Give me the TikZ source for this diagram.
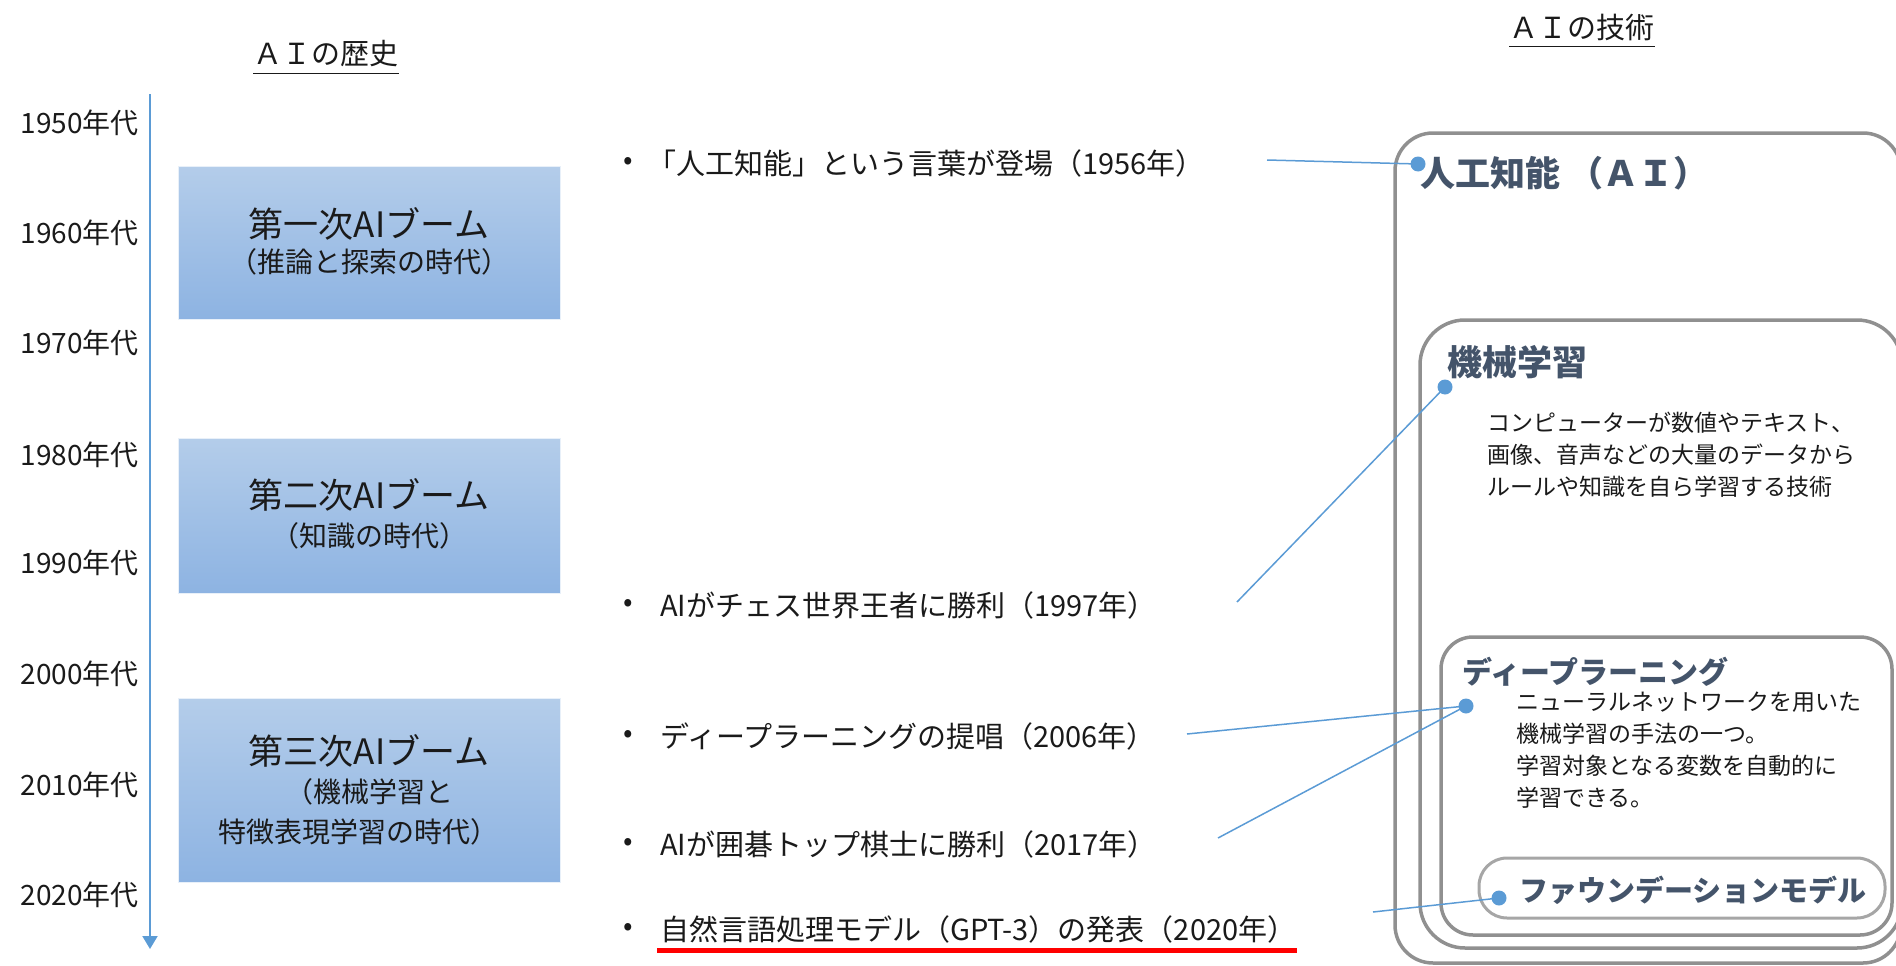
\documentclass[tikz,border=0pt]{standalone}
\usepackage{fontspec}
\setmainfont{Noto Sans CJK JP}
\usetikzlibrary{arrows.meta}
\definecolor{tlblue}{HTML}{5B9BD5}
\definecolor{boxtop}{HTML}{B4CDEA}
\definecolor{boxbot}{HTML}{8DB3E2}
\definecolor{slate}{HTML}{44546A}
\definecolor{frame}{HTML}{909090}
\definecolor{framelt}{HTML}{A6A6A6}
\definecolor{txt}{HTML}{1A1A1A}
\newcommand{\fs}[1]{\fontsize{#1}{#1}\selectfont}
\tikzset{
  decade/.style={anchor=east, inner sep=0, text=txt, font=\fs{28}},
  boombox/.style={draw=white!70!boxtop, line width=1, top color=boxtop, bottom color=boxbot, minimum width=382, minimum height=#1, inner sep=0},
  boomtitle/.style={inner sep=0, text=txt, font=\fs{35}},
  boomsub/.style={inner sep=0, text=txt, font=\fs{28}},
  bul/.style={inner sep=0, text=txt, font=\fs{28}},
  event/.style={anchor=west, inner sep=0, text=txt, font=\fs{29}},
  head/.style={inner sep=0, text=txt, font=\fs{29}},
  tech/.style={anchor=west, inner sep=0, text=slate, font=\bfseries\fs{#1}},
  desc/.style={anchor=north west, inner sep=0, text=txt, align=left, font=\fontsize{23}{32}\selectfont},
  dotnode/.style={circle, fill=tlblue, inner sep=0, minimum size=15},
  link/.style={draw=tlblue, line width=1.5},
  frm/.style={draw=frame, line width=3.5},
  frmlt/.style={draw=framelt, line width=3}
}
\begin{document}
\begin{tikzpicture}[x=1pt,y=-1pt]
\useasboundingbox (0,0) rectangle (1896,966);
\clip (0,0) rectangle (1896,966);

% titles
\node[head] (t1) at (326,54) {ＡＩの歴史};
\draw[line width=1.8, txt] ([yshift=-6]t1.south west) -- ([yshift=-6]t1.south east);
\node[head] (t2) at (1582,27) {ＡＩの技術};
\draw[line width=1.8, txt] ([yshift=-6]t2.south west) -- ([yshift=-6]t2.south east);

% timeline
\coordinate (tl0) at (150,94);
\coordinate (tl1) at (150,949);
\draw[tlblue, line width=2, -{Triangle[length=13pt,width=15pt]}] (tl0) -- (tl1);

\node[decade] (y1950) at (139,123) {1950年代};
\node[decade] (y1960) at (139,233) {1960年代};
\node[decade] (y1970) at (139,343) {1970年代};
\node[decade] (y1980) at (139,455) {1980年代};
\node[decade] (y1990) at (139,563) {1990年代};
\node[decade] (y2000) at (139,674) {2000年代};
\node[decade] (y2010) at (139,785) {2010年代};
\node[decade] (y2020) at (139,895) {2020年代};

% booms
\node[boombox=153] (box1) at (369,242.5) {};
\node[boomtitle] (box1t) at (369,224) {第一次AIブーム};
\node[boomsub] (box1s) at (369,262) {（推論と探索の時代）};

\node[boombox=155] (box2) at (369,515.5) {};
\node[boomtitle] (box2t) at (369,495) {第二次AIブーム};
\node[boomsub] (box2s) at (369,536) {（知識の時代）};

\node[boombox=184] (box3) at (369,790) {};
\node[boomtitle] (box3t) at (369,751) {第三次AIブーム};
\node[boomsub] (box3s) at (369,792) {（機械学習と};
\node[boomsub] (box3u) at (358,832) {特徴表現学習の時代）};

% events
\node[bul] (p1) at (628,163) {•};
\node[event] (e1) at (647,163) {「人工知能」という言葉が登場（1956年）};
\node[bul] (p2) at (628,605) {•};
\node[event] (e2) at (660,605) {AIがチェス世界王者に勝利（1997年）};
\node[bul] (p3) at (628,736) {•};
\node[event] (e3) at (660,736) {ディープラーニングの提唱（2006年）};
\node[bul] (p4) at (628,844) {•};
\node[event] (e4) at (660,844) {AIが囲碁トップ棋士に勝利（2017年）};
\node[bul] (p5) at (628,929) {•};
\node[event] (e5) at (660,929) {自然言語処理モデル（GPT-3）の発表（2020年）};
\draw[red, line width=5] ([xshift=-3,yshift=-7]e5.south west) -- ([yshift=-7]e5.south east);

% technology frames
\draw[frm, rounded corners=38] (1395,133) rectangle (1901,963);
\draw[frm, rounded corners=45] (1420,320) rectangle (1902,948);
\draw[frm, rounded corners=32] (1441,637) rectangle (1892,935);
\draw[frmlt, rounded corners=28] (1479,858) rectangle (1885,918);

\node[tech=35] (ai) at (1420,173) {人工知能 （ＡＩ）};
\node[tech=35] (ml) at (1447,362) {機械学習};
\node[desc] (mld) at (1487,412) {コンピューターが数値やテキスト、\\画像、音声などの大量のデータから\\ルールや知識を自ら学習する技術};
\node[tech=30] (dl) at (1462,672) {ディープラーニング};
\node[desc] (dld) at (1516,692) {ニューラルネットワークを用いた\\機械学習の手法の一つ。\\学習対象となる変数を自動的に\\学習できる。};
\node[tech=29] (fm) at (1519,890) {ファウンデーションモデル};

% dots
\node[dotnode] (d1) at (1418,164) {};
\node[dotnode] (d2) at (1445,387) {};
\node[dotnode] (d3) at (1466,706) {};
\node[dotnode] (d5) at (1499,898) {};

% connectors
\coordinate (c1) at (1267,160);
\coordinate (c2) at (1237,602);
\coordinate (c3) at (1187,734);
\coordinate (c4) at (1218,838);
\coordinate (c5) at (1373,912);
\draw[link] (c1) -- (d1.center);
\draw[link] (c2) -- (d2.center);
\draw[link] (c3) -- (d3.center);
\draw[link] (c4) -- (d3.center);
\draw[link] (c5) -- (d5.center);
\end{tikzpicture}
\end{document}
